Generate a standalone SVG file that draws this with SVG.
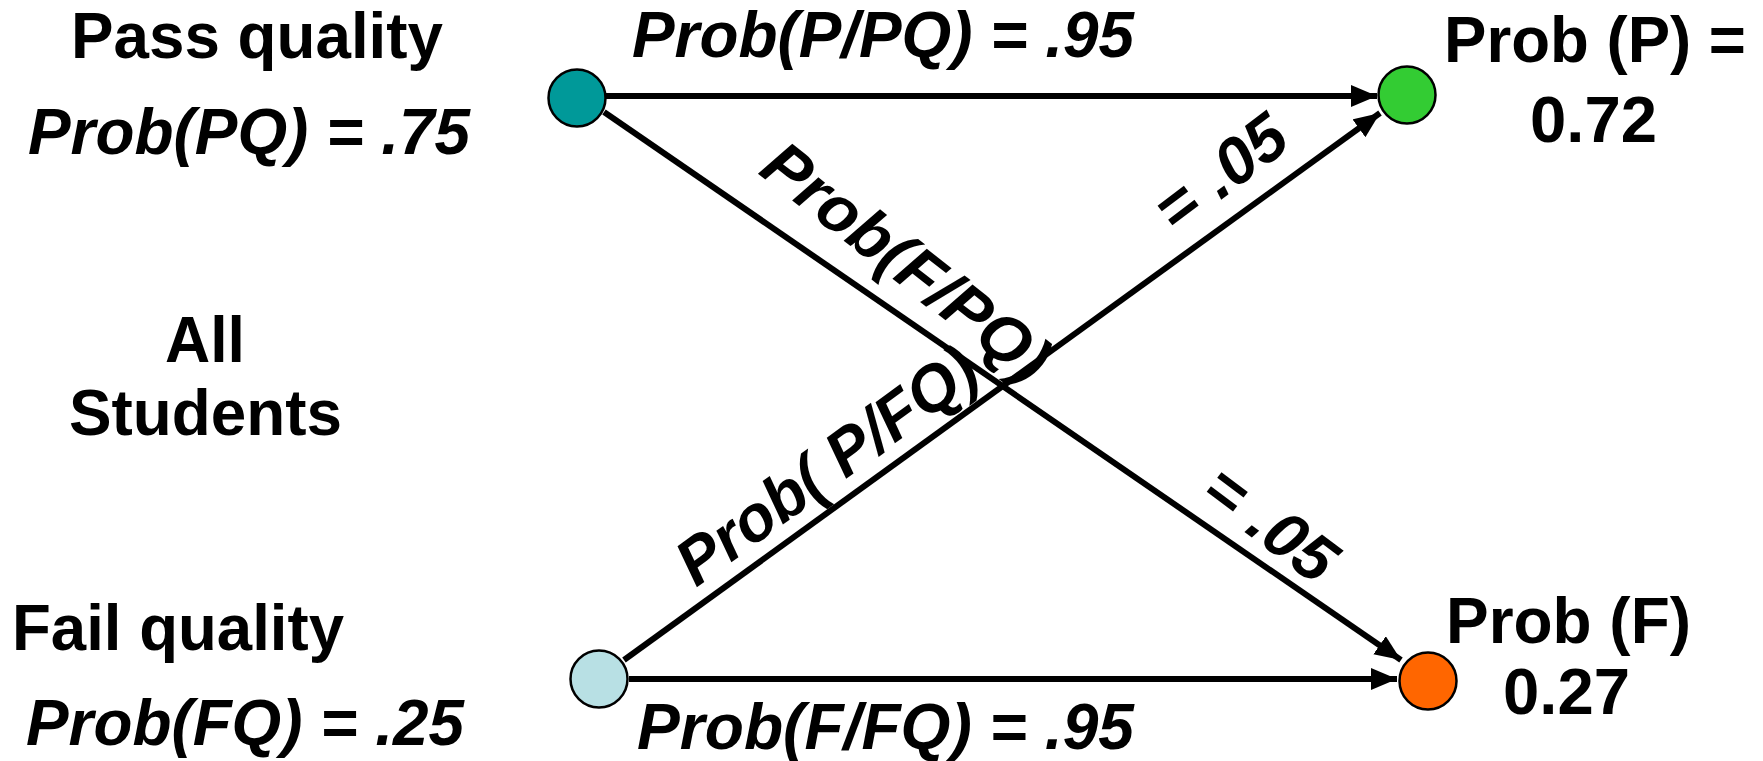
<svg xmlns="http://www.w3.org/2000/svg" width="1763" height="761" viewBox="0 0 1763 761">
  <style>
    text { font-family: "Liberation Sans", Arial, sans-serif; font-weight: bold; font-size: 65px; fill: #000; }
    .it { font-style: italic; }
    .node { stroke: #000; stroke-width: 2.5; }
    .conn { stroke: #000; stroke-width: 6; fill: none; }
  </style>
  <defs>
    <marker id="arrow" markerUnits="userSpaceOnUse" markerWidth="28" markerHeight="24" refX="26" refY="11" orient="auto">
      <path d="M0,0 L26,11 L0,22 z" fill="#000"/>
    </marker>
  </defs>
  <rect width="1763" height="761" fill="#fff"/>

  <g id="connectors">
    <line class="conn" x1="606" y1="96" x2="1377" y2="96" marker-end="url(#arrow)"/>
    <line class="conn" x1="604" y1="112" x2="1401" y2="660" marker-end="url(#arrow)"/>
    <line class="conn" x1="624" y1="660" x2="1380" y2="113" marker-end="url(#arrow)"/>
    <line class="conn" x1="629" y1="679" x2="1397" y2="679" marker-end="url(#arrow)"/>
  </g>

  <g id="node-pq">
    <circle class="node" cx="577" cy="98" r="28.5" fill="#009999"/>
  </g>
  <g id="node-fq">
    <circle class="node" cx="599" cy="679" r="28.5" fill="#B8E0E4"/>
  </g>
  <g id="node-p">
    <circle class="node" cx="1407" cy="95" r="28.5" fill="#33CC33"/>
  </g>
  <g id="node-f">
    <circle class="node" cx="1428" cy="681" r="28.5" fill="#FF6600"/>
  </g>

  <g id="label-pass">
    <text x="71" y="58" textLength="372" lengthAdjust="spacingAndGlyphs">Pass quality</text>
    <text class="it" x="28" y="154" textLength="442" lengthAdjust="spacingAndGlyphs">Prob(PQ) = .75</text>
  </g>
  <g id="label-all">
    <text x="165" y="362" textLength="80" lengthAdjust="spacingAndGlyphs">All</text>
    <text x="69" y="435" textLength="273" lengthAdjust="spacingAndGlyphs">Students</text>
  </g>
  <g id="label-fail">
    <text x="12" y="650" textLength="332" lengthAdjust="spacingAndGlyphs">Fail quality</text>
    <text class="it" x="26" y="745" textLength="438" lengthAdjust="spacingAndGlyphs">Prob(FQ) = .25</text>
  </g>
  <g id="label-p-pq">
    <text class="it" x="632" y="57" textLength="502" lengthAdjust="spacingAndGlyphs">Prob(P/PQ) = .95</text>
  </g>
  <g id="label-f-fq">
    <text class="it" x="637" y="749" textLength="497" lengthAdjust="spacingAndGlyphs">Prob(F/FQ) = .95</text>
  </g>
  <g id="label-p">
    <text x="1444" y="62" textLength="302" lengthAdjust="spacingAndGlyphs">Prob (P) =</text>
    <text x="1530" y="142" textLength="127" lengthAdjust="spacingAndGlyphs">0.72</text>
  </g>
  <g id="label-f">
    <text x="1446" y="643" textLength="245" lengthAdjust="spacingAndGlyphs">Prob (F)</text>
    <text x="1503" y="714" textLength="127" lengthAdjust="spacingAndGlyphs">0.27</text>
  </g>
  <g id="label-f-pq">
    <text class="it" transform="translate(907,261) rotate(38)" x="0" y="23" text-anchor="middle" textLength="345" lengthAdjust="spacingAndGlyphs">Prob(F/PQ)</text>
    <text class="it" transform="translate(1271,523) rotate(37)" x="0" y="23" text-anchor="middle" textLength="148" lengthAdjust="spacingAndGlyphs">= .05</text>
  </g>
  <g id="label-p-fq">
    <text class="it" transform="translate(826,465) rotate(-36)" x="0" y="23" text-anchor="middle" textLength="355" lengthAdjust="spacingAndGlyphs">Prob( P/FQ)</text>
    <text class="it" transform="translate(1220,172) rotate(-37)" x="0" y="23" text-anchor="middle" textLength="148" lengthAdjust="spacingAndGlyphs">= .05</text>
  </g>
</svg>
